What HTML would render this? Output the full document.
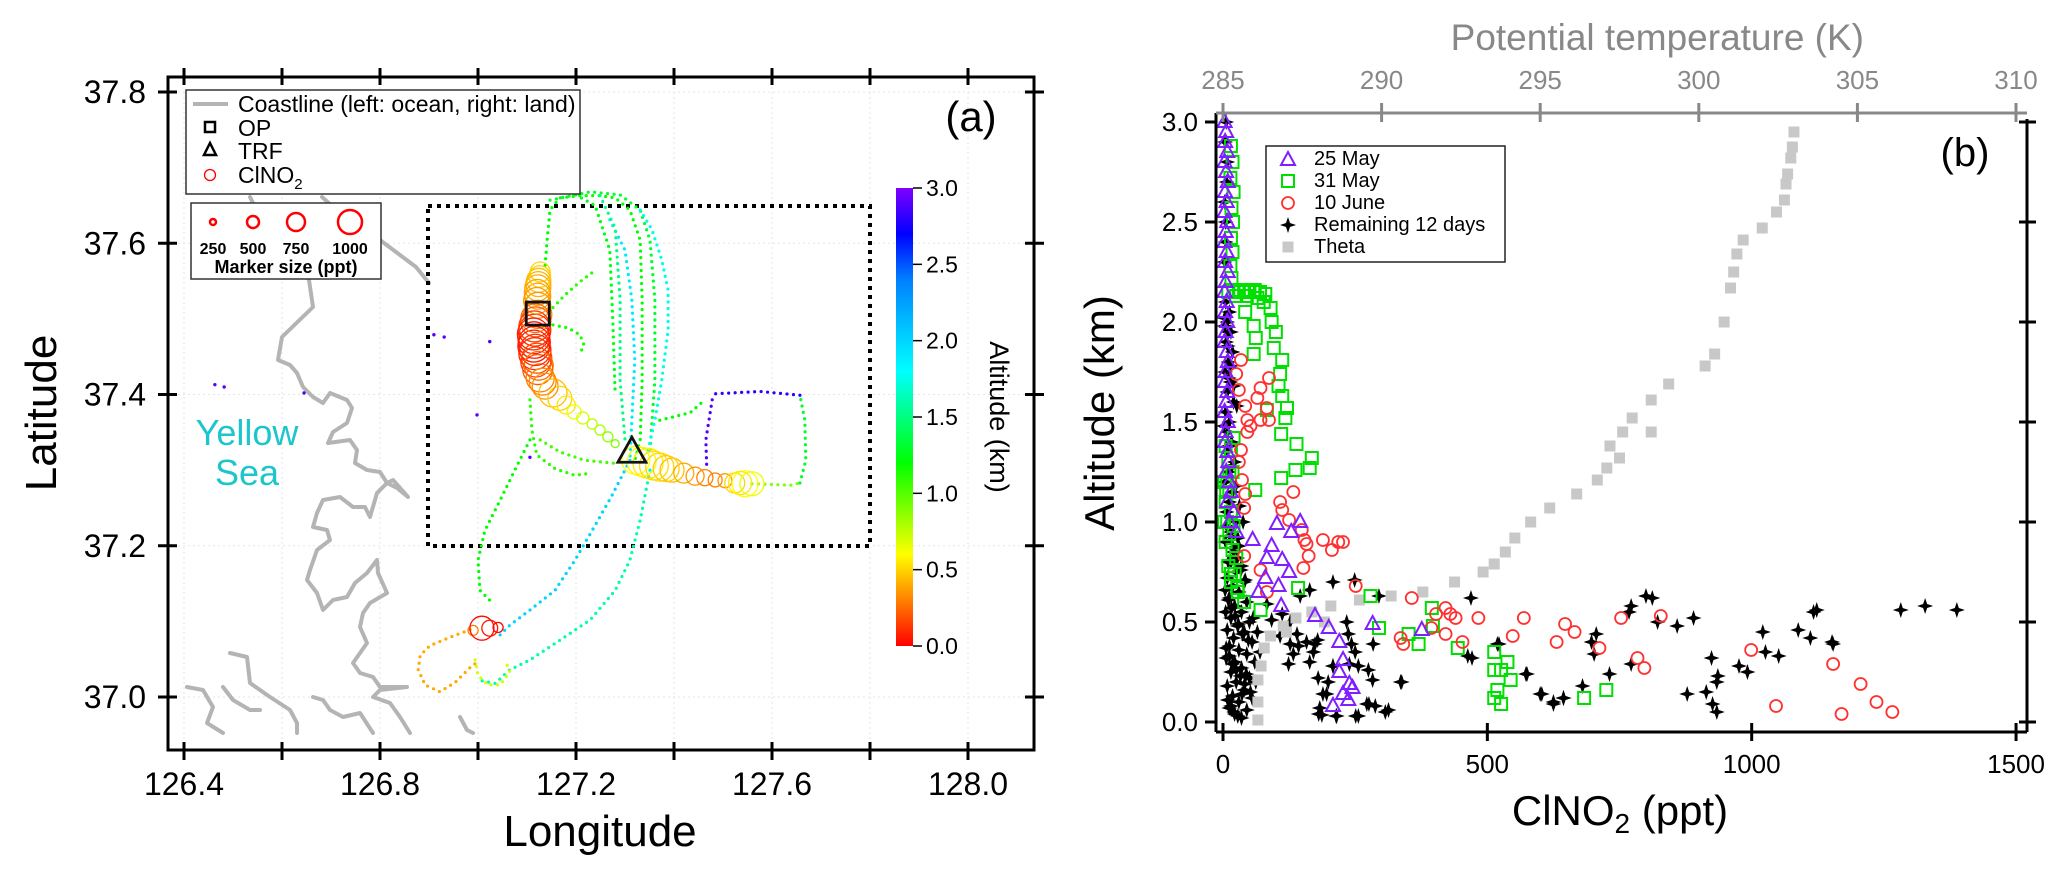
<!DOCTYPE html>
<html><head><meta charset="utf-8"><style>
html,body{margin:0;padding:0;background:#fff;}
svg{display:block;font-family:"Liberation Sans",Arial,sans-serif;}
</style></head><body>
<svg id="fig" xmlns="http://www.w3.org/2000/svg" width="2067" height="873" viewBox="0 0 2067 873">
<defs>
<linearGradient id="jetGrad" x1="0" y1="1" x2="0" y2="0">
<stop offset="0" stop-color="#ff0000"/><stop offset="0.1" stop-color="#ff8000"/><stop offset="0.2" stop-color="#ffff00"/><stop offset="0.4" stop-color="#00ff00"/><stop offset="0.6" stop-color="#00ffff"/><stop offset="0.8" stop-color="#0080ff"/><stop offset="0.9" stop-color="#0000ff"/><stop offset="1" stop-color="#8000ff"/>
</linearGradient>
</defs>
<g id="panelA"></g>
<g id="panelB"></g>
</svg>
<script>
// ===== Panel A data =====
const latTicks=[37.0,37.2,37.4,37.6,37.8];
const lonTicks=[126.4,126.8,127.2,127.6,128.0];
const altBarTicks=[0.0,0.5,1.0,1.5,2.0,2.5,3.0];
// ClNO2 circles: lon, lat, ppt, altitude (km)
const cLon=[127.127,127.124,127.122,127.122,127.122,127.122,127.118,127.116,127.114,127.114,127.116,127.118,127.122,127.127,127.137,127.153,127.167,127.180,127.196,127.214,127.233,127.249,127.265,127.280,127.322,127.347,127.371,127.396,127.420,127.443,127.463,127.484,127.504,127.524,127.545,127.559,126.990,127.008,127.024,127.041,
127.126,127.123,127.121,127.120,127.117,127.115,127.113,127.115,127.117,127.120,127.124,127.132,127.334,127.359,127.384,127.535];
const cLat=[37.562,37.551,37.541,37.530,37.518,37.506,37.496,37.485,37.475,37.464,37.454,37.443,37.433,37.422,37.411,37.402,37.395,37.386,37.377,37.369,37.361,37.353,37.344,37.335,37.313,37.309,37.304,37.300,37.296,37.292,37.290,37.287,37.286,37.283,37.282,37.282,37.088,37.091,37.091,37.092,
37.556,37.546,37.535,37.524,37.501,37.490,37.480,37.469,37.459,37.448,37.438,37.417,37.311,37.306,37.302,37.283];
const cPpt=[830,1000,1080,1080,1080,1170,1250,1330,1330,1330,1330,1250,1250,1170,1080,1170,1000,750,580,500,420,420,420,330,1170,1250,1170,1000,830,750,670,580,580,830,1080,1000,420,1000,660,420,
900,1040,1080,1100,1200,1290,1330,1330,1300,1250,1200,1120,1200,1200,1080,960];
const cAlt=[0.5,0.45,0.4,0.38,0.35,0.3,0.2,0.1,0.05,0.05,0.08,0.15,0.2,0.3,0.35,0.45,0.5,0.55,0.65,0.7,0.75,0.8,0.85,0.9,0.6,0.55,0.5,0.45,0.4,0.35,0.3,0.3,0.35,0.5,0.6,0.65,0.3,0.02,0.05,0.02,
0.48,0.42,0.39,0.36,0.25,0.15,0.07,0.06,0.1,0.18,0.25,0.32,0.58,0.52,0.48,0.55];
// flight track polylines (lon/lat) with altitude
const trackLon=[
[127.137,127.141,127.147,127.167,127.208,127.249,127.280,127.310,127.331,127.335,127.335,127.331,127.320],
[127.147,127.229,127.290,127.331,127.351,127.361,127.361,127.351],
[127.331,127.355,127.375,127.388,127.388,127.375,127.361,127.347],
[127.269,127.300,127.314,127.320,127.314,127.310],
[127.153,127.178,127.208,127.241],
[127.153,127.184,127.208,127.216,127.208],
[127.106,127.110,127.120,127.157,127.198,127.229],
[127.127,127.167,127.218,127.280],
[127.106,127.075,127.045,127.014,127.000,127.004,127.024],
[127.310,127.273,127.239,127.198,127.157,127.106,127.065,127.045],
[127.351,127.331,127.310,127.280,127.229,127.167,127.106,127.065,127.035,127.004],
[126.984,126.943,126.902,126.882,126.878,126.892,126.922,126.953,126.984,127.004],
[126.994,127.000,127.020,127.045,127.065,127.055],
[127.559,127.637,127.657],
[127.657,127.669,127.667,127.657],
[127.657,127.576,127.484],
[127.478,127.465,127.467],
[127.371,127.433,127.463],
[127.249,127.280,127.290,127.290,127.300],
[127.188,127.239,127.269,127.275,127.280]];
const trackLat=[
[37.571,37.604,37.644,37.660,37.663,37.663,37.660,37.644,37.604,37.525,37.419,37.340,37.313],
[37.657,37.668,37.664,37.644,37.604,37.525,37.419,37.326],
[37.644,37.618,37.578,37.538,37.485,37.419,37.366,37.326],
[37.631,37.591,37.525,37.446,37.366,37.313],
[37.515,37.532,37.549,37.565],
[37.492,37.488,37.479,37.466,37.453],
[37.393,37.353,37.320,37.302,37.293,37.296],
[37.340,37.324,37.313,37.309],
[37.340,37.300,37.260,37.220,37.181,37.141,37.128],
[37.313,37.266,37.227,37.181,37.141,37.115,37.095,37.082],
[37.300,37.234,37.181,37.141,37.102,37.075,37.049,37.036,37.018,37.022],
[37.089,37.079,37.068,37.055,37.036,37.016,37.007,37.019,37.039,37.049],
[37.049,37.029,37.016,37.016,37.033,37.049],
[37.282,37.280,37.283],
[37.283,37.313,37.366,37.399],
[37.399,37.404,37.401],
[37.393,37.340,37.300],
[37.366,37.376,37.393],
[37.663,37.620,37.525,37.419,37.340],
[37.668,37.650,37.591,37.500,37.400]];
const trackAlt=[1.2,1.3,1.75,1.9,1.1,1.15,1.1,1.05,1.2,2.0,1.6,0.4,0.7,0.9,1.3,2.8,2.9,1.2,1.5,1.25];
const strayLon=[126.463,126.482,126.645,126.910,126.931,127.024,126.998,127.106];
const strayLat=[37.413,37.410,37.402,37.479,37.476,37.470,37.373,37.317];
const strayAlt=[2.9,2.9,2.9,2.9,2.9,2.9,2.9,2.9];
const opLon=127.122, opLat=37.507, trfLon=127.314, trfLat=37.325;

// ===== Panel B data =====
const xTicksB=[0,500,1000,1500];
const yTicksB=[0.0,0.5,1.0,1.5,2.0,2.5,3.0];
const thetaTicks=[285,290,295,300,305,310];
const mayPpt=[3,6,4,8,3,6,9,4,7,3,8,5,3,7,4,9,5,3,7,4,8,5,3,7,9,5,4,8,6,3,9,5,4,8,10,6,12,15,8,20,12,25,102,146,129,56,92,83,112,125,80,105,67,110,174,200,220,227,220,239,227,208,283,376,245,237];
const mayAlt=[3.0,2.95,2.9,2.85,2.8,2.75,2.7,2.65,2.6,2.55,2.5,2.45,2.4,2.35,2.3,2.25,2.2,2.15,2.1,2.05,2.0,1.95,1.9,1.85,1.8,1.75,1.7,1.65,1.6,1.55,1.5,1.45,1.4,1.35,1.3,1.25,1.2,1.15,1.1,1.05,1.0,0.95,0.99,1.0,0.95,0.91,0.88,0.82,0.81,0.75,0.72,0.68,0.65,0.58,0.53,0.47,0.40,0.31,0.25,0.19,0.14,0.08,0.49,0.46,0.17,0.11];
const juneMayPpt=[15,18,14,20,16,19,15,18,14,16,10,20,30,40,50,60,70,80,25,45,65,42,77,90,58,92,62,100,96,58,112,108,105,112,121,83,118,110,139,168,164,137,110,61,20,15,10,18,8,12,5,15,8,20,12,5,18,25,10,22,15,28,40,5,3,2,6,12,142,279,395,295,397,351,370,444,513,538,513,526,544,519,513,526,683,725,71,27,15];
const juneMayAlt=[2.88,2.8,2.72,2.65,2.57,2.5,2.42,2.35,2.28,2.22,2.15,2.16,2.15,2.16,2.15,2.16,2.15,2.14,2.13,2.13,2.12,2.05,2.1,2.07,1.98,2.0,1.92,1.95,1.87,1.84,1.81,1.74,1.68,1.63,1.57,1.56,1.52,1.44,1.39,1.32,1.27,1.26,1.22,1.16,1.42,1.36,1.3,1.25,1.2,1.15,1.1,1.05,1.0,0.98,0.94,0.9,0.86,0.82,0.78,0.74,0.7,0.65,0.6,1.38,1.2,1.0,1.15,1.25,0.67,0.63,0.57,0.47,0.48,0.44,0.39,0.37,0.35,0.30,0.26,0.26,0.21,0.16,0.12,0.09,0.12,0.16,0.56,0.67,0.74];
const junePpt=[34,25,87,30,71,65,42,83,46,71,87,52,46,34,30,36,133,42,108,112,40,125,149,154,189,218,227,206,158,162,152,40,71,251,357,83,403,421,430,440,394,421,336,341,453,483,548,569,631,647,665,712,753,828,784,797,999,1154,1206,1236,1266,1170,1046];
const juneAlt=[1.81,1.74,1.72,1.66,1.67,1.62,1.58,1.57,1.51,1.51,1.51,1.48,1.45,1.36,1.30,1.21,1.15,1.14,1.10,1.06,1.07,1.01,0.96,0.91,0.91,0.90,0.90,0.86,0.89,0.83,0.77,0.83,0.76,0.68,0.62,0.65,0.54,0.57,0.54,0.52,0.47,0.44,0.42,0.39,0.40,0.52,0.43,0.52,0.40,0.49,0.45,0.37,0.52,0.53,0.32,0.27,0.36,0.29,0.19,0.10,0.05,0.04,0.08];
const restPpt=[5,12,8,15,6,18,10,4,14,8,20,5,12,9,16,6,22,10,4,18,12,7,25,15,5,30,20,10,35,25,8,40,18,30,12,45,22,5,35,15,50,28,8,40,20,55,12,30,45,6,22,60,35,15,50,25,8,40,18,55,30,12,45,22,35,65,70,62,15,28,38,10,3,5,7,4,6,8,3,5,
208,249,469,295,463,519,573,336,600,625,644,680,706,697,702,731,772,768,800,812,822,859,890,772,878,914,924,936,934,926,934,976,992,1021,1026,1051,1088,1111,1117,1123,1152,1154,1282,1328,1388,
92,124,143,174,171,180,187,199,208,215,234,237,243,250,256,275,284,256,272,288,313,338,471,522,575,603,625,644,196,183,127,140,164,146,112,127,83,108,133,179,158,164,189,181,214,251,276,307,283,239,208,
3,9,14,20,26,2,11,17,24,31,7,13,19,27,34,42,4,10,16,23,29,37,48,6,12,18,25,33,41,52,9,15,21,28,36,44,57,3,11];
const restAlt=[2.1,2.05,2.0,1.95,1.9,1.85,1.8,1.75,1.7,1.65,1.6,1.55,1.5,1.45,1.4,1.35,1.3,1.25,1.2,1.15,1.1,1.05,1.0,0.95,0.9,0.88,0.85,0.8,0.78,0.75,0.72,0.7,0.68,0.65,0.62,0.6,0.58,0.55,0.55,0.52,0.5,0.48,0.46,0.45,0.42,0.4,0.38,0.36,0.34,0.32,0.3,0.3,0.27,0.25,0.22,0.2,0.18,0.16,0.13,0.12,0.1,0.07,0.06,0.04,0.02,0.45,0.35,0.2,0.8,0.92,1.0,1.95,2.3,2.5,2.7,2.9,3.0,2.8,2.6,2.4,
0.70,0.71,0.62,0.63,0.33,0.39,0.24,0.20,0.14,0.10,0.12,0.18,0.44,0.40,0.34,0.24,0.58,0.55,0.63,0.62,0.50,0.48,0.52,0.29,0.14,0.15,0.32,0.23,0.20,0.09,0.05,0.28,0.25,0.45,0.35,0.33,0.46,0.42,0.55,0.56,0.40,0.39,0.56,0.58,0.56,
0.51,0.29,0.38,0.39,0.35,0.22,0.035,0.20,0.28,0.03,0.50,0.44,0.39,0.35,0.28,0.26,0.39,0.03,0.09,0.08,0.06,0.20,0.32,0.39,0.24,0.14,0.09,0.12,0.14,0.07,0.39,0.44,0.66,0.63,0.54,0.50,0.59,0.43,0.34,0.41,0.40,0.30,0.14,0.04,0.03,0.03,0.09,0.05,0.21,0.29,0.28,
1.98,1.88,1.78,1.68,1.58,1.48,1.38,1.28,1.18,1.08,0.98,0.93,0.87,0.82,0.76,0.71,0.66,0.61,0.57,0.53,0.49,0.44,0.41,0.37,0.33,0.29,0.26,0.23,0.19,0.15,0.11,0.08,0.05,0.03,0.14,0.24,0.52,2.02,1.72];
const thetaK=[303.0,302.95,302.9,302.8,302.75,302.7,302.45,302.0,301.4,301.2,301.1,301.0,300.8,300.5,300.2,299.05,298.5,297.9,298.5,297.6,297.2,297.5,297.1,296.8,296.15,295.3,294.7,294.2,293.9,293.55,293.2,292.3,291.3,290.3,289.3,288.4,287.3,286.9,286.5,286.3,286.2,286.1,286.1,286.1,287.0,287.8,288.2];
const thetaAlt=[2.95,2.875,2.82,2.74,2.69,2.61,2.55,2.47,2.41,2.34,2.25,2.17,2.0,1.84,1.78,1.69,1.61,1.52,1.45,1.45,1.38,1.32,1.27,1.21,1.14,1.07,1.0,0.92,0.85,0.79,0.75,0.70,0.65,0.63,0.61,0.58,0.52,0.48,0.43,0.37,0.28,0.21,0.10,0.01,0.45,0.55,0.50];

// ===== helpers =====
const NS="http://www.w3.org/2000/svg";
function el(tag,attrs,parent){const e=document.createElementNS(NS,tag);for(const k in attrs)e.setAttribute(k,attrs[k]);parent.appendChild(e);return e;}
function jet(a){const st=[[0,[255,0,0]],[0.3,[255,128,0]],[0.6,[255,255,0]],[1.2,[0,255,0]],[1.8,[0,255,255]],[2.4,[0,128,255]],[2.7,[0,0,255]],[3.0,[128,0,255]]];
 a=Math.max(0,Math.min(3,a));for(let i=1;i<st.length;i++){if(a<=st[i][0]){const t=(a-st[i-1][0])/(st[i][0]-st[i-1][0]);const c=st[i-1][1].map((v,j)=>Math.round(v+(st[i][1][j]-v)*t));return `rgb(${c[0]},${c[1]},${c[2]})`;}}return "rgb(128,0,255)";}
const A=document.getElementById('panelA'), B=document.getElementById('panelB');
const ax0=168,ax1=1034,ay0=77,ay1=750;
const lonX=v=>184+(v-126.4)*490;
const latY=v=>697-(v-37.0)*756.25;
const bx0=1216,bx1=2027,by0=113,by1=732;
const pptX=v=>1223+v*0.5287;
const altY=v=>722-v*200;
const thX=v=>1223+(v-285)*31.72;

// ===== Panel A drawing =====
for(let v=126.4;v<=128.101;v+=0.2){const g=el('line',{x1:lonX(v),x2:lonX(v),y1:ay0,y2:ay1,stroke:'#e6e6e6','stroke-width':1,'stroke-dasharray':'2 3'},A);

}
for(let v=37.0;v<=37.81;v+=0.2){const g=el('line',{x1:ax0,x2:ax1,y1:latY(v),y2:latY(v),stroke:'#e6e6e6','stroke-width':1,'stroke-dasharray':'2 3'},A);

}
const coastSegs=[
"250,197 255,207 291,253 309,280 313,307 282,337 278,360 290,365 297,373 303,387 313,397 323,403 330,393 347,400 352,408 347,423 333,432 328,443 350,440 357,450 355,463 367,470 380,472 387,483 393,480 408,497 397,488 387,483 377,493 370,517 365,507 353,507 340,497 323,500 317,513 313,527 327,530 330,540 317,550 310,570 307,580 317,593 323,610 333,600 347,597 355,583 367,573 377,560 378,573 387,593 370,603 363,613 360,627 367,643 353,663 360,673 373,677 380,687 407,687 380,690 373,697 390,703 400,717 410,733",
"322,197 340,213 380,240 416,267 429,283",
"230,653 247,657 250,683 270,697 290,710 297,723 297,733",
"223,687 233,700 250,710 260,710",
"187,687 203,690 213,707 207,723 223,733",
"313,697 323,700 330,710 343,717 360,713 373,733",
"460,717 467,730 473,733"];
coastSegs.forEach(p=>{const c=el('polyline',{points:p,fill:'none',stroke:'#b4b4b4','stroke-width':4,'stroke-linejoin':'round','stroke-linecap':'round'},A);

});
const ys=el('text',{x:247,y:445,'text-anchor':'middle','font-size':36,fill:'#1cc6cc'},A);ys.textContent='Yellow';


const ys2=el('text',{x:247,y:485,'text-anchor':'middle','font-size':36,fill:'#1cc6cc'},A);ys2.textContent='Sea';


const box=el('rect',{x:428,y:206,width:442,height:340,fill:'none',stroke:'#000','stroke-width':4,'stroke-dasharray':'4 5'},A);


trackLon.forEach((lons,i)=>{const pts=lons.map((v,j)=>lonX(v)+','+latY(trackLat[i][j])).join(' ');
const t=el('polyline',{points:pts,fill:'none',stroke:jet(trackAlt[i]),'stroke-width':3.2,'stroke-linecap':'round','stroke-linejoin':'round','stroke-dasharray':'0 6.5'},A);

});
strayLon.forEach((v,i)=>{const d=el('circle',{cx:lonX(v),cy:latY(strayLat[i]),r:1.7,fill:jet(strayAlt[i])},A);

});
cLon.forEach((v,i)=>{const c=el('circle',{cx:lonX(v),cy:latY(cLat[i]),r:Math.max(2,cPpt[i]*0.012),fill:'none',stroke:jet(cAlt[i]),'stroke-width':1.3},A);

});
const op=el('rect',{x:lonX(opLon)-11.5,y:latY(opLat)-11.5,width:23,height:23,fill:'none',stroke:'#111','stroke-width':2.8},A);


const tx=lonX(trfLon),ty=latY(trfLat);
const trf=el('polygon',{points:`${tx},${ty-14} ${tx+14},${ty+11} ${tx-14},${ty+11}`,fill:'none',stroke:'#111','stroke-width':2.8},A);


const fr=el('rect',{x:ax0,y:ay0,width:ax1-ax0,height:ay1-ay0,fill:'none',stroke:'#000','stroke-width':3},A);


for(let v=126.4;v<=128.101;v+=0.2){const x=lonX(v);
const tb=el('line',{x1:x,x2:x,y1:ay1-8,y2:ay1+10,stroke:'#000','stroke-width':3},A);


const tt=el('line',{x1:x,x2:x,y1:ay0-9,y2:ay0+8,stroke:'#000','stroke-width':3},A);

}
lonTicks.forEach(v=>{const t=el('text',{x:lonX(v),y:795,'text-anchor':'middle','font-size':32},A);t.textContent=v.toFixed(1);

});
latTicks.forEach(v=>{const y=latY(v);
const tl=el('line',{x1:ax0-10,x2:ax0+9,y1:y,y2:y,stroke:'#000','stroke-width':3},A);


const tr=el('line',{x1:ax1-9,x2:ax1+10,y1:y,y2:y,stroke:'#000','stroke-width':3},A);


const t=el('text',{x:146,y:y+11,'text-anchor':'end','font-size':32},A);t.textContent=v.toFixed(1);

});
const xt=el('text',{x:600,y:846,'text-anchor':'middle','font-size':44},A);xt.textContent='Longitude';


const yt=el('text',{x:0,y:0,'text-anchor':'middle','font-size':44,transform:'translate(56,413) rotate(-90)'},A);yt.textContent='Latitude';


const pa=el('text',{x:971,y:131,'text-anchor':'middle','font-size':42},A);pa.textContent='(a)';


const cbY=a=>646-a/3*458;
const cb=el('rect',{x:896,y:188,width:17,height:458,fill:'url(#jetGrad)'},A);


altBarTicks.forEach(v=>{const y=cbY(v);
const l=el('line',{x1:913,x2:922,y1:y,y2:y,stroke:'#000','stroke-width':1.5},A);


const t=el('text',{x:926,y:y+8,'font-size':23},A);t.textContent=v.toFixed(1);

});
const cbt=el('text',{x:0,y:0,'text-anchor':'middle','font-size':27,transform:'translate(990,417) rotate(90)'},A);cbt.textContent='Altitude (km)';


const lg=el('g',{},A);


el('rect',{x:186,y:90,width:394,height:104,fill:'#fff',stroke:'#333','stroke-width':1.5},lg);
el('line',{x1:193,x2:228,y1:104,y2:104,stroke:'#b4b4b4','stroke-width':4},lg);
el('rect',{x:205,y:122,width:10,height:10,fill:'none',stroke:'#000','stroke-width':2.5},lg);
el('polygon',{points:'210,143 216,155 204,155',fill:'none',stroke:'#000','stroke-width':2.5},lg);
el('circle',{cx:210,cy:175,r:5.5,fill:'none',stroke:'#f00','stroke-width':1.3},lg);
[['Coastline (left: ocean, right: land)',112],['OP',136],['TRF',159]].forEach(a=>{const t=el('text',{x:238,y:a[1],'font-size':23},lg);t.textContent=a[0];

});
const lc=el('text',{x:238,y:183,'font-size':23},lg);lc.innerHTML='ClNO<tspan font-size="15" dy="6">2</tspan>';


const lg2=el('g',{},A);


el('rect',{x:191,y:203,width:190,height:76,fill:'#fff',stroke:'#333','stroke-width':1.5},lg2);
[[213,250],[253,500],[296,750],[350,1000]].forEach(a=>{el('circle',{cx:a[0],cy:222,r:a[1]*0.012,fill:'none',stroke:'#f00','stroke-width':2.5},lg2);
const t=el('text',{x:a[0],y:254,'text-anchor':'middle','font-size':16,'font-weight':'bold'},lg2);t.textContent=a[1];

});
const ms=el('text',{x:286,y:273,'text-anchor':'middle','font-size':18,'font-weight':'bold'},lg2);ms.textContent='Marker size (ppt)';



// ===== Panel B drawing =====
function star(x,y,g){return el('path',{d:`M${x},${y-8} L${x+2},${y-2} L${x+8},${y} L${x+2},${y+2} L${x},${y+8} L${x-2},${y+2} L${x-8},${y} L${x-2},${y-2}Z`,fill:'#000'},g);}
function tri(x,y,g){return el('polygon',{points:`${x},${y-8} ${x+7},${y+5} ${x-7},${y+5}`,fill:'none',stroke:'#7f1fff','stroke-width':2},g);}
function sq(x,y,g){return el('rect',{x:x-6,y:y-6,width:12,height:12,fill:'none',stroke:'#00e000','stroke-width':2},g);}
function circ(x,y,g){return el('circle',{cx:x,cy:y,r:6,fill:'none',stroke:'#ff3030','stroke-width':1.8},g);}
function th(x,y,g){return el('rect',{x:x-5.5,y:y-5.5,width:11,height:11,fill:'#c8c8c8'},g);}
const gRest=el('g',{},B);


restPpt.forEach((v,i)=>{const m=star(pptX(v),altY(restAlt[i]),gRest);

});
const gTh=el('g',{},B);


thetaK.forEach((v,i)=>{const m=th(thX(v),altY(thetaAlt[i]),gTh);

});
const gG=el('g',{},B);


juneMayPpt.forEach((v,i)=>{const m=sq(pptX(v),altY(juneMayAlt[i]),gG);

});
const gR=el('g',{},B);


junePpt.forEach((v,i)=>{const m=circ(pptX(v),altY(juneAlt[i]),gR);

});
const gP=el('g',{},B);


mayPpt.forEach((v,i)=>{const m=tri(pptX(v),altY(mayAlt[i]),gP);

});
const axL=el('line',{x1:bx0,x2:bx0,y1:by0,y2:by1,stroke:'#000','stroke-width':3},B);


const axR=el('line',{x1:bx1,x2:bx1,y1:by0+6,y2:by1,stroke:'#000','stroke-width':3},B);


const axBt=el('line',{x1:bx0,x2:bx1,y1:by1,y2:by1,stroke:'#000','stroke-width':3},B);


const axT=el('line',{x1:bx0,x2:bx1,y1:by0,y2:by0,stroke:'#888','stroke-width':3},B);


xTicksB.forEach(v=>{const x=pptX(v);
const l=el('line',{x1:x,x2:x,y1:by1-9,y2:by1+9,stroke:'#000','stroke-width':3},B);


const t=el('text',{x:x,y:773,'text-anchor':'middle','font-size':26},B);t.textContent=v;

});
yTicksB.forEach(v=>{const y=altY(v);
const l=el('line',{x1:bx0-11,x2:bx0,y1:y,y2:y,stroke:'#000','stroke-width':3},B);


const r=el('line',{x1:bx1-8,x2:bx1+9,y1:y,y2:y,stroke:'#000','stroke-width':3},B);


const t=el('text',{x:1198,y:y+9,'text-anchor':'end','font-size':26},B);t.textContent=v.toFixed(1);

});
thetaTicks.forEach(v=>{const x=thX(v);
const l=el('line',{x1:x,x2:x,y1:by0-10,y2:by0+9,stroke:'#888','stroke-width':3},B);


const t=el('text',{x:x,y:89,'text-anchor':'middle','font-size':26,fill:'#888'},B);t.textContent=v;

});
const tht=el('text',{x:1864,y:50,'text-anchor':'end','font-size':37,fill:'#888'},B);tht.textContent='Potential temperature (K)';


const bxt=el('text',{x:1620,y:825,'text-anchor':'middle','font-size':42},B);bxt.innerHTML='ClNO<tspan font-size="28" dy="8">2</tspan><tspan dy="-8"> (ppt)</tspan>';


const byt=el('text',{x:0,y:0,'text-anchor':'middle','font-size':42,transform:'translate(1114,413) rotate(-90)'},B);byt.textContent='Altitude (km)';


const pb=el('text',{x:1965,y:166,'text-anchor':'middle','font-size':40},B);pb.textContent='(b)';


const lb=el('g',{},B);


el('rect',{x:1266,y:146,width:239,height:116,fill:'#fff',stroke:'#222','stroke-width':1.5},lb);
tri(1288,160,lb);sq(1288,181,lb);circ(1288,203,lb);star(1288,225,lb);th(1288,247,lb);
[['25 May',165],['31 May',187],['10 June',209],['Remaining 12 days',231],['Theta',253]].forEach(a=>{const t=el('text',{x:1314,y:a[1],'font-size':20},lb);t.textContent=a[0];

});
</script>
</body></html>
